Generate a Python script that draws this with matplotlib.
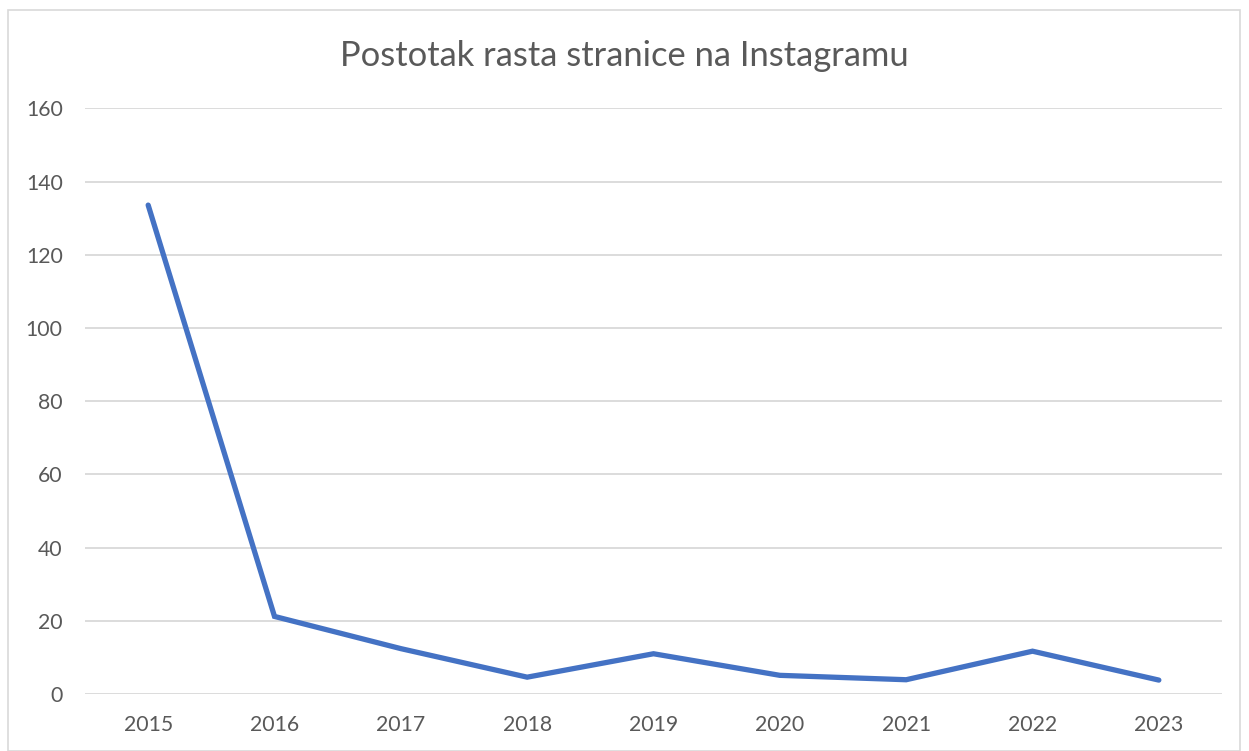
import matplotlib
matplotlib.use("Agg")
import matplotlib.pyplot as plt
from matplotlib.patches import Rectangle

# podaci
godine = ["2015", "2016", "2017", "2018", "2019", "2020", "2021", "2022", "2023"]
rast = [133.6, 21.2, 12.4, 4.6, 11.0, 5.1, 3.9, 11.7, 3.8]
y_ticks = [0, 20, 40, 60, 80, 100, 120, 140, 160]

plt.rcParams['font.family'] = ['Lato', 'DejaVu Sans']

fig = plt.figure(figsize=(12.49, 7.51), dpi=100)
fig.patches.append(Rectangle((8/1249, 0.0), 1232/1249, 1 - 10/751, transform=fig.transFigure,
                             fill=False, edgecolor="#D9D9D9", linewidth=1.2))

ax = fig.add_axes([85/1249, 57/751, 1137/1249, 585.5/751])
ax.plot(range(len(godine)), rast, color="#4472C4", linewidth=3.8, solid_capstyle="round",
        solid_joinstyle="miter")

ax.set_xlim(-0.5, len(godine) - 0.5)
ax.set_ylim(0, 160)
ax.set_yticks(y_ticks)
ax.set_xticks(range(len(godine)))
ax.set_xticklabels(godine)
ax.grid(axis="y", color="#D9D9D9", linewidth=1.3)
ax.set_axisbelow(True)
for s in ax.spines.values():
    s.set_visible(False)
ax.tick_params(length=0, labelsize=15.3, labelcolor="#595959")
ax.tick_params(axis="x", pad=15)
ax.tick_params(axis="y", pad=16)

fig.text(0.5, 1 - 56/751, "Postotak rasta stranice na Instagramu", ha="center", va="center",
         fontsize=24.8, color="#595959")

fig.savefig("out.png", dpi=100)
